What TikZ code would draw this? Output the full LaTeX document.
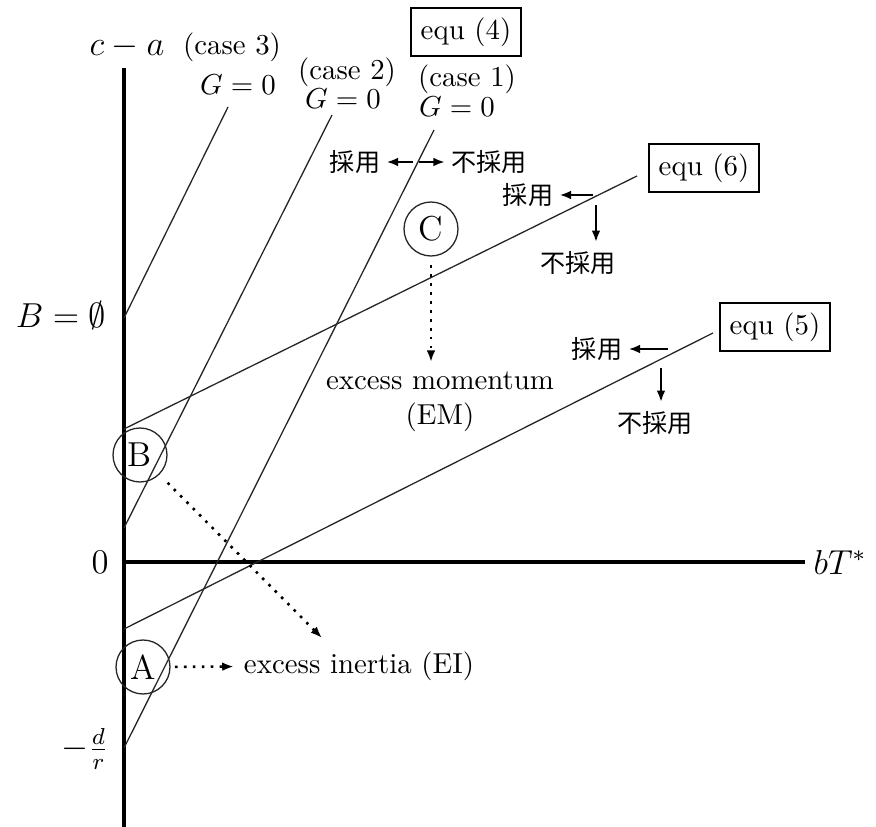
\documentclass[tikz,border=0pt]{standalone}
\usepackage{fontspec}
\newfontfamily\jpfont{Noto Sans CJK JP}
\usetikzlibrary{arrows.meta}

\tikzset{
  axisline/.style={line width=1.1pt},
  caseline/.style={line width=0.45pt, black!85},
  eqbox/.style={draw, line width=0.9pt, inner sep=3.3pt},
  ptcircle/.style={draw, circle, line width=0.45pt, black!85, text=black,
    minimum size=18.7pt, inner sep=0pt, font=\large},
  jp/.style={font=\jpfont\fontsize{8.7}{10}\selectfont, inner sep=2pt},
  choice/.style={-{Latex[length=4pt,width=3pt]}, line width=0.8pt},
  excess/.style={-{Latex[length=4pt,width=3pt]}, line width=0.9pt,
    dash pattern=on 0.9pt off 2.2pt},
}

\begin{document}
\begin{tikzpicture}[x=0.3465pt, y=-0.3465pt]
  \useasboundingbox (0,0) rectangle (876,827);

  % axes
  \coordinate (ytop) at (124,68);
  \coordinate (ybot) at (124,827);
  \coordinate (orig) at (124,562);
  \coordinate (xend) at (805,562);
  \draw[axisline] (ybot) -- (ytop);
  \draw[axisline] (orig) -- (xend);
  \node (ca) at (127,47) {\large $c-a$};
  \node (bt) at (840,562) {\large $bT^*$};
  \node (zero) at (100,562) {\large $0$};
  \node (bempty) at (61,315) {\large $B=\emptyset$};
  \node (dr) at (85,749) {\large $-\frac{d}{r}$};

  % G = 0 lines (cases 1--3)
  \coordinate (c3a) at (124,318);
  \coordinate (c3b) at (228,107);
  \coordinate (c2a) at (124,528);
  \coordinate (c2b) at (332,115);
  \coordinate (c1a) at (124,748);
  \coordinate (c1b) at (434,130);
  \draw[caseline] (c3a) -- (c3b);
  \draw[caseline] (c2a) -- (c2b);
  \draw[caseline] (c1a) -- (c1b);

  % equ (6) and equ (5)
  \coordinate (e6a) at (124,429);
  \coordinate (e6b) at (637,176);
  \coordinate (e5a) at (124,629);
  \coordinate (e5b) at (713,333);
  \draw[caseline] (e6a) -- (e6b);
  \draw[caseline] (e5a) -- (e5b);

  % line labels
  \node (case3) at (232,47) {(case 3)};
  \node (g3) at (238,85) {$G=0$};
  \node (case2) at (347,72) {(case 2)};
  \node (g2) at (343,99) {$G=0$};
  \node[eqbox] (eq4) at (466,32) {equ (4)};
  \node (case1) at (467,79) {(case 1)};
  \node (g1) at (457,107) {$G=0$};
  \node[eqbox] (eq6) at (704,168) {equ (6)};
  \node[eqbox] (eq5) at (775,327) {equ (5)};

  % adopt / not adopt
  \node[jp] (adopt4) at (355,162) {採用};
  \node[jp] (reject4) at (489,162) {不採用};
  \coordinate (s4l) at (413,162);
  \coordinate (s4r) at (419,162);
  \draw[choice] (s4l) -- (adopt4);
  \draw[choice] (s4r) -- (reject4);

  \node[jp] (adopt6) at (528,195) {採用};
  \node[jp] (reject6) at (578,263) {不採用};
  \coordinate (s6l) at (593,195);
  \coordinate (s6d) at (596,205);
  \draw[choice] (s6l) -- (adopt6);
  \draw[choice, shorten >=1pt] (s6d) -- (s6d |- reject6.north);

  \node[jp] (adopt5) at (597,349) {採用};
  \node[jp] (reject5) at (655,423) {不採用};
  \coordinate (s5l) at (668,349);
  \coordinate (s5d) at (661,368);
  \draw[choice] (s5l) -- (adopt5);
  \draw[choice, shorten >=1pt] (s5d) -- (s5d |- reject5.north);

  % equilibria
  \node[ptcircle] (ptB) at (140,455) {B};
  \node[ptcircle] (ptA) at (143,667) {A};
  \node[ptcircle] (ptC) at (431,229) {C};
  \node[align=center] (em) at (440,402) {excess momentum\\(EM)};
  \node (ei) at (359,666) {excess inertia (EI)};
  \coordinate (eiB) at (322,638);
  \draw[excess, shorten <=4pt] (ptB) -- (eiB);
  \draw[excess, shorten <=3pt] (ptC) -- (ptC |- em.north);
  \draw[excess, shorten <=1.5pt] (ptA) -- (ei);
\end{tikzpicture}
\end{document}
